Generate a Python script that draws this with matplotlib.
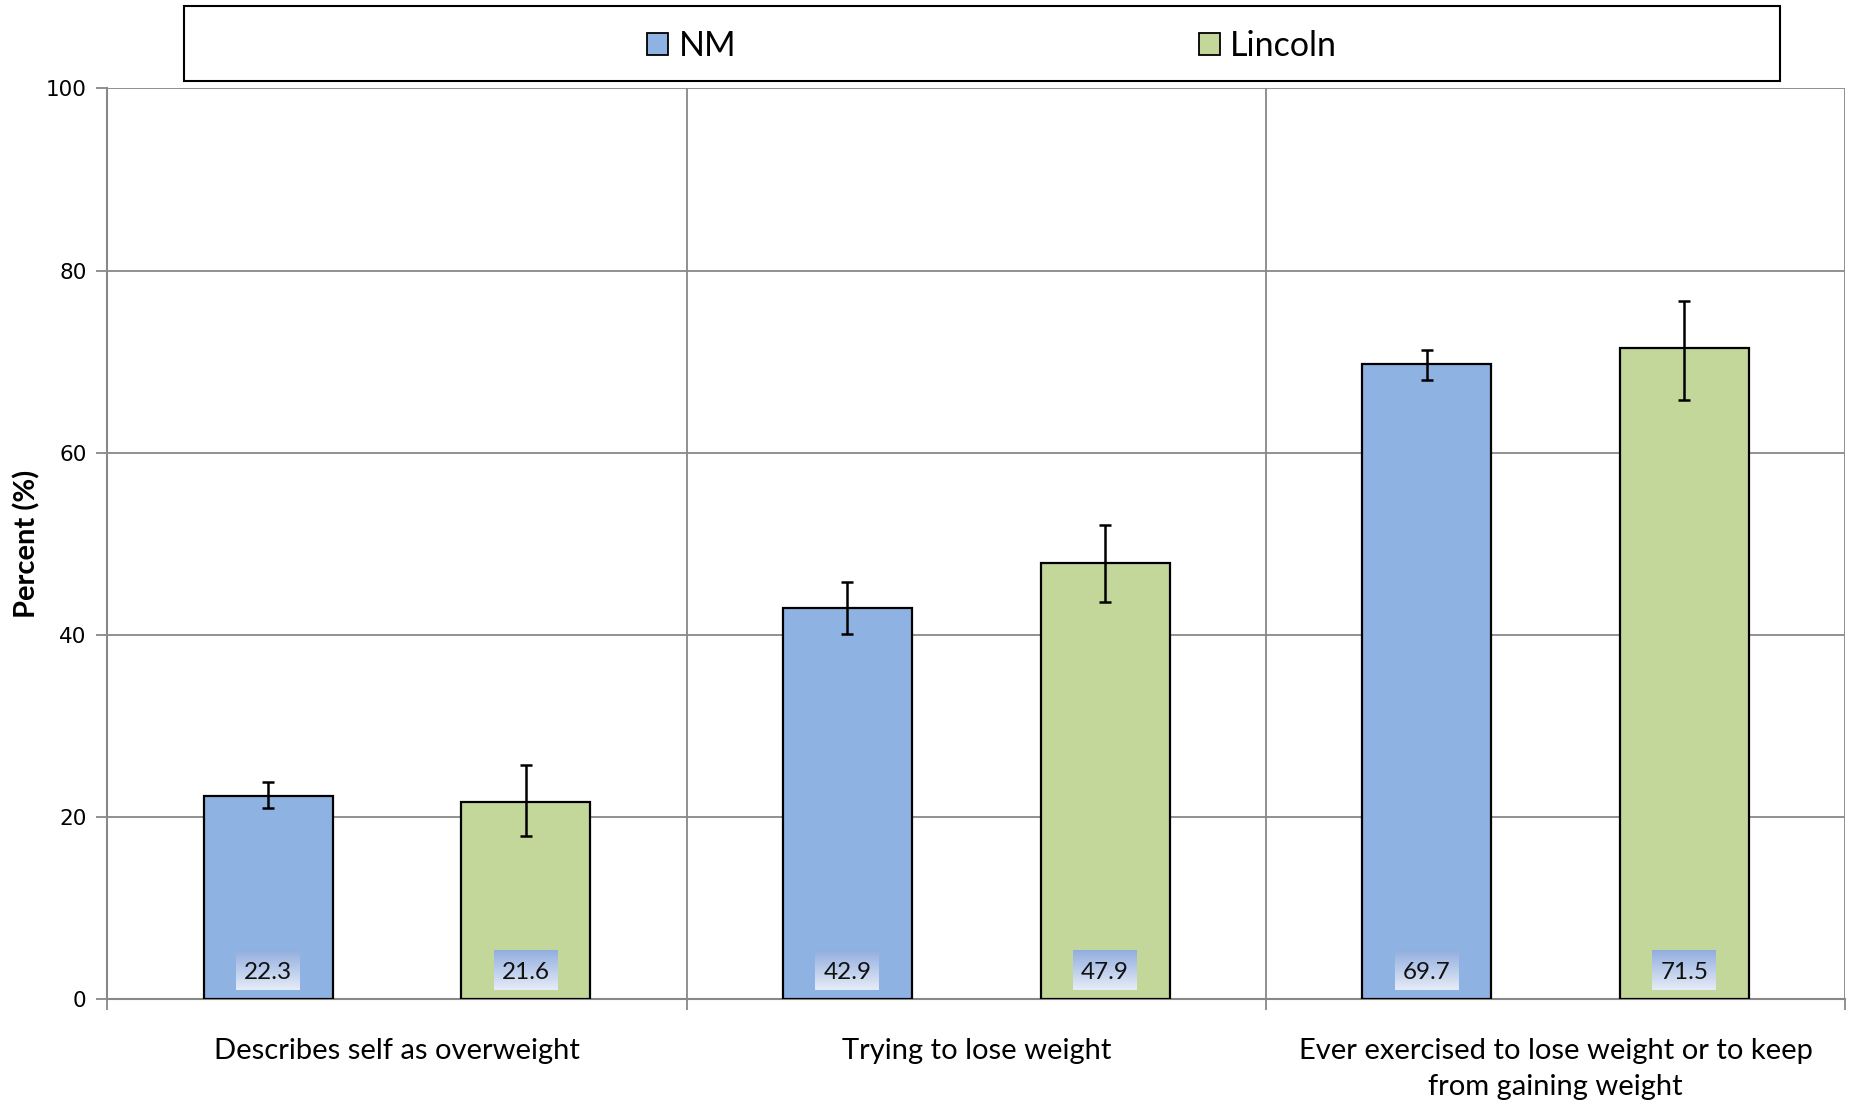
import matplotlib
matplotlib.use("Agg")
import matplotlib.pyplot as plt
import numpy as np
from matplotlib.patches import Rectangle, Patch

categories = ["Describes self as overweight", "Trying to lose weight",
              "Ever exercised to lose weight or to keep\nfrom gaining weight"]
series_names = ["NM", "Lincoln"]
nm_values = [22.3, 42.9, 69.7]
lincoln_values = [21.6, 47.9, 71.5]
nm_low = [20.9, 40.1, 68.0]
nm_high = [23.8, 45.8, 71.3]
lincoln_low = [17.9, 43.6, 65.8]
lincoln_high = [25.7, 52.0, 76.7]
yticks = [0, 20, 40, 60, 80, 100]

colors = ["#8EB3E2", "#C4D79B"]
FONT = "Lato"

fig = plt.figure(figsize=(18.51, 11.06), dpi=100)
ax = fig.add_axes([0.058, 0.097, 0.9388, 0.823])

x = np.arange(len(categories))
width = 0.223
offset = 0.2225
series = [(nm_values, nm_low, nm_high), (lincoln_values, lincoln_low, lincoln_high)]
cmap = matplotlib.colors.LinearSegmentedColormap.from_list("g", ["#E6ECF7", "#92AEDF"])
for i, (vals, lo, hi) in enumerate(series):
    xs = x + (i * 2 - 1) * offset
    vals = np.array(vals)
    err = np.array([vals - np.array(lo), np.array(hi) - vals])
    ax.bar(xs, vals, width, color=colors[i], edgecolor="black", linewidth=1.6,
           zorder=3, label=series_names[i])
    ax.errorbar(xs, vals, yerr=err, fmt="none", ecolor="black", elinewidth=1.8,
                capsize=4.5, capthick=1.8, zorder=4)
    grad = np.linspace(0, 1, 100).reshape(-1, 1)
    for xv, v in zip(xs, vals):
        bw = 0.055
        ax.imshow(grad, extent=(xv - bw, xv + bw, 1.0, 5.3), origin="lower",
                  cmap=cmap, aspect="auto", zorder=5)
        ax.text(xv, 2.85, f"{v:.1f}", ha="center", va="center",
                fontsize=17.5, family=FONT, zorder=6, color="#111111")

ax.set_xlim(-0.5, 2.5)
ax.set_ylim(0, 100)
ax.set_yticks(yticks)
ax.set_yticklabels([str(t) for t in yticks], family="DejaVu Sans", fontsize=15.5)
ax.set_xticks(x)
ax.set_xticklabels(categories, family=FONT, fontsize=21, linespacing=1.5)
ax.set_xticks([-0.5, 0.5, 1.5, 2.5], minor=True)
ax.tick_params(axis="x", which="major", length=0, pad=28)
ax.tick_params(axis="x", which="minor", length=8, color="#888888", width=1.3)
ax.tick_params(axis="y", length=8, color="#888888", width=1.3, pad=7)
ax.grid(axis="y", color="#888888", linewidth=1.3, zorder=0)
ax.grid(axis="x", which="minor", color="#888888", linewidth=1.3, zorder=0)
ax.set_axisbelow(True)
for s in ["top", "right"]:
    ax.spines[s].set_visible(False)
for s in ["left", "bottom"]:
    ax.spines[s].set_color("#888888")
    ax.spines[s].set_linewidth(1.5)

ax.set_ylabel("Percent (%)", family=FONT, fontweight="bold", fontsize=21, labelpad=4)

fig.patches.append(Rectangle((0.0994, 0.9268), 0.8623, 0.0678, transform=fig.transFigure,
                             facecolor="white", edgecolor="black", linewidth=1.5))
handles = [Patch(facecolor=colors[i], edgecolor="black", linewidth=1.3) for i in range(2)]
fig.legend(handles, series_names, loc="center", bbox_to_anchor=(0.536, 0.958),
           ncol=2, frameon=False, prop={"family": FONT, "size": 24.5},
           handlelength=0.62, handleheight=0.62, handletextpad=0.3, columnspacing=13.6)

fig.savefig("out.png", dpi=100)
